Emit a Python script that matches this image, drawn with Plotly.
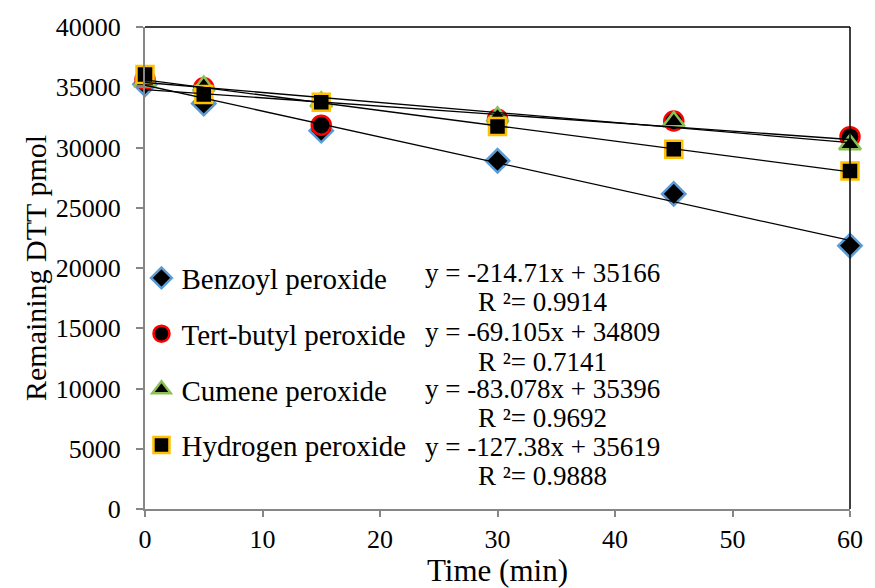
"""
Remaining DTT vs time for four peroxides, with linear trendlines.
"""
import plotly.graph_objects as go

# Datos
tiempo = [0, 5, 15, 30, 45, 60]

benzoyl = [35250, 33650, 31400, 28900, 26150, 21850]
tert_butyl = [35650, 34950, 31850, 32350, 32200, 30900]
cumene = [35450, 35100, 33800, 32550, 32150, 30250]
hydrogen = [36050, 34400, 33750, 31750, 29850, 28050]

series_names = ["Benzoyl peroxide", "Tert-butyl peroxide", "Cumene peroxide", "Hydrogen peroxide"]
series_values = [benzoyl, tert_butyl, cumene, hydrogen]

# Coeficientes de las líneas de tendencia (como aparecen en el gráfico)
pendientes = [-214.71, -69.105, -83.078, -127.38]
ordenadas = [35166, 34809, 35396, 35619]
r2 = [0.9914, 0.7141, 0.9692, 0.9888]

FONT = "Times New Roman, Liberation Serif, serif"

estilos = [
    dict(symbol="diamond", size=18, color="black", line=dict(color="#5B9BD5", width=2.5)),
    dict(symbol="circle", size=19, color="black", line=dict(color="#FF0000", width=2.5)),
    dict(symbol="triangle-up", size=19, color="black", line=dict(color="#8CC152", width=2.5)),
    dict(symbol="square", size=17, color="black", line=dict(color="#FFC000", width=2.5)),
]

fig = go.Figure()

for i, (nombre, valores) in enumerate(zip(series_names, series_values)):
    fig.add_trace(go.Scatter(
        x=tiempo,
        y=valores,
        mode="markers",
        name=nombre,
        legendgroup=nombre,
        marker=estilos[i],
        cliponaxis=False,
    ))

# Líneas de tendencia encima de los marcadores (como en Excel)
x_tend = [min(tiempo), max(tiempo)]
for nombre, m, b in zip(series_names, pendientes, ordenadas):
    fig.add_trace(go.Scatter(
        x=x_tend,
        y=[m * x + b for x in x_tend],
        mode="lines",
        line=dict(color="black", width=1.3),
        showlegend=False,
        hoverinfo="skip",
        cliponaxis=False,
    ))

# Ecuaciones y R² centradas
pos_y = [0.490, 0.430, 0.367, 0.306, 0.248, 0.188, 0.129, 0.069]
for i, (m, b, r) in enumerate(zip(pendientes, ordenadas, r2)):
    lineas = [f"y = {m:.5g}x + {b}", f"R \u00b2= {r:.4f}"]
    for j, txt in enumerate(lineas):
        fig.add_annotation(
            text=txt,
            xref="paper", yref="paper",
            x=0.564, y=pos_y[2 * i + j],
            xanchor="center", yanchor="middle",
            showarrow=False,
            font=dict(family=FONT, size=27, color="black"),
        )

# Borde superior y derecho negro
fig.add_shape(type="line", xref="paper", yref="paper", x0=0, x1=1, y0=1, y1=1,
              line=dict(color="black", width=1.5))
fig.add_shape(type="line", xref="paper", yref="paper", x0=1, x1=1, y0=0, y1=1,
              line=dict(color="black", width=1.5))

fig.update_layout(
    width=875, height=588,
    paper_bgcolor="white",
    plot_bgcolor="white",
    margin=dict(l=145, r=14, t=27, b=75),
    font=dict(family=FONT, color="black"),
    legend=dict(
        x=-0.005, y=0.532, xanchor="left", yanchor="top",
        font=dict(family=FONT, size=29, color="black"),
        bgcolor="rgba(0,0,0,0)",
        tracegroupgap=15,
        traceorder="grouped",
    ),
    xaxis=dict(
        range=[0, 60], dtick=10,
        showgrid=False, zeroline=False,
        showline=True, linecolor="#868686", linewidth=2,
        ticks="outside", ticklen=6, tickcolor="#868686", tickwidth=1.5,
        tickfont=dict(family=FONT, size=26, color="black"),
        title=dict(text="Time (min)", font=dict(family=FONT, size=31, color="black"), standoff=0),
    ),
    yaxis=dict(
        range=[0, 40000], dtick=5000, tickformat="d",
        showgrid=False, zeroline=False,
        showline=True, linecolor="#868686", linewidth=2,
        ticks="outside", ticklen=7, tickcolor="#868686", tickwidth=1.5,
        ticklabelstandoff=10,
        tickfont=dict(family=FONT, size=26, color="black"),
        title=dict(text="Remaining DTT pmol", font=dict(family=FONT, size=30, color="black"), standoff=0),
    ),
)

# Sin margen ni barras de desplazamiento para que la figura ocupe la ventana tal cual
ajuste_pagina = (
    "document.body.style.margin = '0';"
    "document.body.style.overflow = 'hidden';"
    "document.documentElement.style.overflow = 'hidden';"
)
fig.write_html("out.html", config={"displayModeBar": False}, post_script=ajuste_pagina)
